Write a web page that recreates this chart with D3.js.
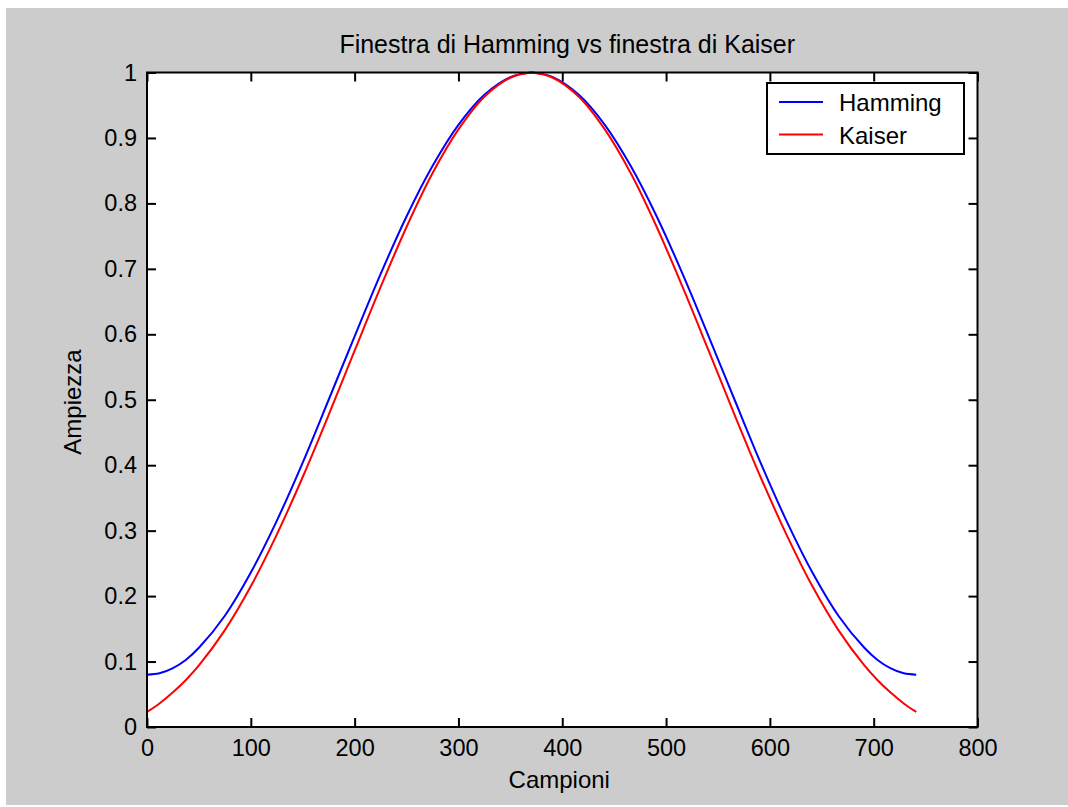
<!DOCTYPE html>
<html>
<head>
<meta charset="utf-8">
<script src="https://cdn.jsdelivr.net/npm/d3@7"></script>
<style>
  html, body { margin: 0; padding: 0; background: #ffffff; }
  svg { display: block; }
  text { font-family: "Liberation Sans", Arial, sans-serif; fill: #000; }
</style>
</head>
<body>
<svg id="chart" width="1068" height="807"></svg>
<script>
// ---- data ----
const titleText = "Finestra di Hamming vs finestra di Kaiser";
const xLabel = "Campioni";
const yLabel = "Ampiezza";
const seriesNames = ["Hamming", "Kaiser"];
const seriesColors = ["#0000ff", "#ff0000"];
const xTicks = [0, 100, 200, 300, 400, 500, 600, 700, 800];
const yTicks = [0, 0.1, 0.2, 0.3, 0.4, 0.5, 0.6, 0.7, 0.8, 0.9, 1];
const samples = [0, 12, 25, 37, 50, 75, 100, 125, 150, 175, 200, 225, 250, 275, 300, 325, 350, 370,
                 371, 391, 416, 441, 466, 491, 516, 541, 566, 591, 616, 641, 666, 691, 704, 716, 729, 741];
const hamming = [0.080, 0.082, 0.090, 0.102, 0.121, 0.170, 0.236, 0.315, 0.404, 0.500, 0.597, 0.692, 0.780, 0.857, 0.920, 0.966, 0.993, 1.000,
                 1.000, 0.993, 0.966, 0.920, 0.857, 0.780, 0.692, 0.597, 0.500, 0.404, 0.315, 0.236, 0.170, 0.121, 0.102, 0.090, 0.082, 0.080];
const kaiser = [0.023, 0.036, 0.053, 0.071, 0.094, 0.148, 0.215, 0.294, 0.382, 0.477, 0.575, 0.672, 0.764, 0.846, 0.913, 0.963, 0.992, 1.000,
                1.000, 0.992, 0.963, 0.913, 0.846, 0.764, 0.672, 0.575, 0.477, 0.382, 0.294, 0.215, 0.148, 0.094, 0.071, 0.053, 0.036, 0.023];

// ---- layout ----
const svg = d3.select("#chart");
const L = 147, R = 977.5, T = 72.5, B = 727;

svg.append("rect").attr("x", 6).attr("y", 8).attr("width", 1062).attr("height", 797).attr("fill", "#cccccc");
svg.append("rect").attr("x", L).attr("y", T).attr("width", R - L).attr("height", B - T).attr("fill", "#ffffff");

const x = d3.scaleLinear().domain([0, 800]).range([L, R]);
const y = d3.scaleLinear().domain([0, 1]).range([B, T]);

const fs = "23.5px";

// axes
const gx = svg.append("g").attr("transform", `translate(0,${B})`)
  .call(d3.axisBottom(x).tickValues(xTicks).tickFormat(d3.format("d")).tickSizeInner(-9).tickSizeOuter(0).tickPadding(12));
const gxTop = svg.append("g").attr("transform", `translate(0,${T})`)
  .call(d3.axisTop(x).tickValues(xTicks).tickFormat("").tickSizeInner(-9).tickSizeOuter(0));
const gy = svg.append("g").attr("transform", `translate(${L},0)`)
  .call(d3.axisLeft(y).tickValues(yTicks).tickFormat(d => d3.format("")(+d.toFixed(1))).tickSizeInner(-9).tickSizeOuter(0).tickPadding(10));
const gyR = svg.append("g").attr("transform", `translate(${R},0)`)
  .call(d3.axisRight(y).tickValues(yTicks).tickFormat("").tickSizeInner(-9).tickSizeOuter(0));

[gx, gxTop, gy, gyR].forEach(g => {
  g.selectAll("path.domain").remove();
  g.selectAll("line").attr("stroke", "#000").attr("stroke-width", 2);
  g.selectAll("text").style("font-size", fs).style("font-family", "'Liberation Sans', Arial, sans-serif").attr("fill", "#000");
});

// series
const line = d3.line().x(d => x(d[0])).y(d => y(d[1])).curve(d3.curveCatmullRom.alpha(0.5));
const seriesData = [hamming, kaiser];
seriesData.forEach((vals, i) => {
  svg.append("path")
    .datum(samples.map((s, k) => [s, vals[k]]))
    .attr("fill", "none")
    .attr("stroke", seriesColors[i])
    .attr("stroke-width", 2)
    .attr("d", line);
});

// frame
svg.append("rect").attr("x", L).attr("y", T).attr("width", R - L).attr("height", B - T)
  .attr("fill", "none").attr("stroke", "#000").attr("stroke-width", 2);

// title & labels
svg.append("text").attr("x", (L + R) / 2 + 5).attr("y", 53).attr("text-anchor", "middle")
  .style("font-size", "25px").text(titleText);
svg.append("text").attr("x", (L + R) / 2 - 3).attr("y", 788).attr("text-anchor", "middle")
  .style("font-size", "24px").text(xLabel);
svg.append("text").attr("transform", "translate(81,402) rotate(-90)").attr("text-anchor", "middle")
  .style("font-size", "24px").text(yLabel);

// legend
const lg = svg.append("g");
lg.append("rect").attr("x", 767).attr("y", 83).attr("width", 197).attr("height", 71)
  .attr("fill", "#ffffff").attr("stroke", "#000").attr("stroke-width", 2);
const legY = [102, 134.5];
seriesNames.forEach((name, i) => {
  lg.append("line").attr("x1", 779).attr("x2", 823).attr("y1", legY[i]).attr("y2", legY[i])
    .attr("stroke", seriesColors[i]).attr("stroke-width", 2);
  lg.append("text").attr("x", 839).attr("y", legY[i] + 9).style("font-size", "24px").text(name);
});
</script>
</body>
</html>
